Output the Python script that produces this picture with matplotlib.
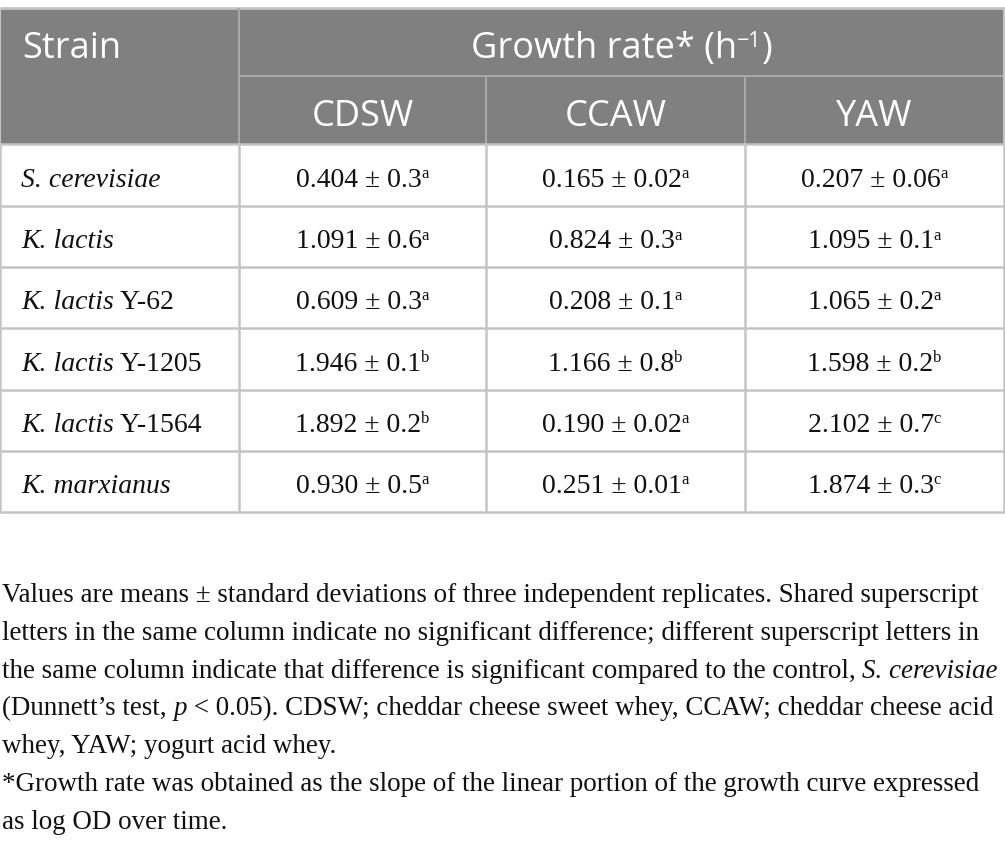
import numpy as np
import matplotlib.pyplot as plt
from matplotlib.patches import Rectangle

# ----- dados da tabela -----
strains = [("S. cerevisiae", ""), ("K. lactis", ""), ("K. lactis", " Y-62"),
           ("K. lactis", " Y-1205"), ("K. lactis", " Y-1564"), ("K. marxianus", "")]
media = ["CDSW", "CCAW", "YAW"]
cdsw_mean = ["0.404", "1.091", "0.609", "1.946", "1.892", "0.930"]
cdsw_sd = ["0.3", "0.6", "0.3", "0.1", "0.2", "0.5"]
cdsw_let = ["a", "a", "a", "b", "b", "a"]
ccaw_mean = ["0.165", "0.824", "0.208", "1.166", "0.190", "0.251"]
ccaw_sd = ["0.02", "0.3", "0.1", "0.8", "0.02", "0.01"]
ccaw_let = ["a", "a", "a", "b", "a", "a"]
yaw_mean = ["0.207", "1.095", "1.065", "1.598", "2.102", "1.874"]
yaw_sd = ["0.06", "0.1", "0.2", "0.2", "0.7", "0.3"]
yaw_let = ["a", "a", "a", "b", "c", "c"]

nota = [
    [("Values are means ± standard deviations of three independent replicates. Shared superscript", "normal")],
    [("letters in the same column indicate no significant difference; different superscript letters in", "normal")],
    [("the same column indicate that difference is significant compared to the control, ", "normal"),
     ("S. cerevisiae", "italic")],
    [("(Dunnett’s test, ", "normal"), ("p", "italic"),
     (" < 0.05). CDSW; cheddar cheese sweet whey, CCAW; cheddar cheese acid", "normal")],
    [("whey, YAW; yogurt acid whey.", "normal")],
    [("*Growth rate was obtained as the slope of the linear portion of the growth curve expressed", "normal")],
    [("as log OD over time.", "normal")],
]

W, H = 1005, 845
fig = plt.figure(figsize=(W / 100, H / 100), dpi=100)
ax = fig.add_axes([0, 0, 1, 1])
ax.set_xlim(0, W)
ax.set_ylim(H, 0)
ax.axis("off")
r = fig.canvas.get_renderer()

SANS = "Open Sans"
SERIF = "Liberation Serif"


def largura(s, **kw):
    # mede com um caractere sentinela para contar espacos nas bordas
    t1 = ax.text(0, 0, s + "|", **kw)
    t2 = ax.text(0, 0, "|", **kw)
    w = t1.get_window_extent(r).width - t2.get_window_extent(r).width
    t1.remove()
    t2.remove()
    return w


def escrever(x, y, partes, ha="left"):
    # partes: lista de (texto, kwargs, dy)
    ws = [largura(s, **kw) for s, kw, dy in partes]
    x0 = x if ha == "left" else x - sum(ws) / 2
    for (s, kw, dy), w in zip(partes, ws):
        ax.text(x0, y + dy, s, va="baseline", ha="left", **kw)
        x0 += w


# ----- geometria -----
xs = [0, 239, 486, 745, 1004]
top, mid, hb = 9, 77, 145
rows = [145, 207, 268, 329, 391, 452, 513]
cinza = "#808080"
linha = "#c4c4c4"

ax.add_patch(Rectangle((0, top), W, hb - top, color=cinza, lw=0))
ax.hlines(top, 0, W, color=linha, lw=2)
ax.hlines(mid, xs[1], W, color="#a8a8a8", lw=1.5)
ax.vlines(xs[1], top, hb, color="#a8a8a8", lw=1.5)
ax.vlines(xs[2:4], mid, hb, color="#a8a8a8", lw=1.5)
ax.hlines(rows, 0, W, color=linha, lw=1.8)
ax.vlines(xs, hb, rows[-1], color=linha, lw=1.8)
ax.vlines(xs[0], top, hb, color=linha, lw=1.5)
ax.vlines(xs[-1], top, hb, color=linha, lw=1.5)

# ----- cabecalho -----
hk = dict(family=SANS, color="white", fontsize=26)
hs = dict(family=SANS, color="white", fontsize=15.5)
escrever(22, 58, [("Strain", hk, 0)])
escrever((xs[1] + xs[-1]) / 2, 58,
         [("Growth rate* (h", hk, 0), ("−1", hs, -11), (")", hk, 0)], ha="center")
for i, m in enumerate(media):
    escrever((xs[i + 1] + xs[i + 2]) / 2, 126, [(m, hk, 0)], ha="center")

# ----- corpo -----
bk = dict(family=SERIF, color="#111111", fontsize=20)
bi = dict(family=SERIF, color="#111111", fontsize=20, style="italic")
bs = dict(family=SERIF, color="#111111", fontsize=12)
colunas = [(cdsw_mean, cdsw_sd, cdsw_let), (ccaw_mean, ccaw_sd, ccaw_let),
           (yaw_mean, yaw_sd, yaw_let)]
for j, (nome, resto) in enumerate(strains):
    yb = (rows[j] + rows[j + 1]) / 2 + 11
    partes = [(nome, bi, 0)]
    if resto:
        partes.append((resto, bk, 0))
    escrever(21, yb, partes)
    for i, (mu, sd, let) in enumerate(colunas):
        escrever((xs[i + 1] + xs[i + 2]) / 2, yb,
                 [(f"{mu[j]} ± {sd[j]}", bk, 0), (let[j], bs, -9)], ha="center")

# ----- nota de rodape -----
fs = 20
w1 = largura(nota[0][0][0], family=SERIF, fontsize=fs)
fs = fs * 980 / w1
for k, linha_nota in enumerate(nota):
    partes = [(s, dict(family=SERIF, color="#111111", fontsize=fs, style=st), 0)
              for s, st in linha_nota]
    escrever(2, 602 + 37.8 * k, partes)

fig.savefig("out.png", dpi=100, facecolor="white")
